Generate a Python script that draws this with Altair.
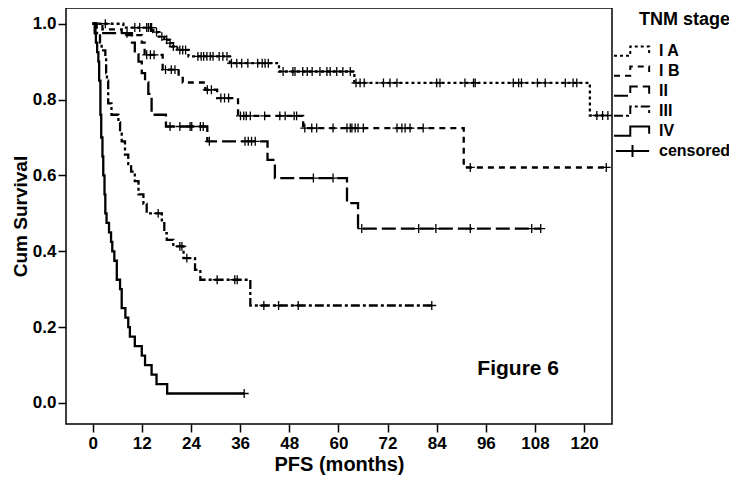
import bisect
import altair as alt
import pandas as pd

# ---------------- data ----------------
stages = ["I A", "I B", "II", "III", "IV"]

ia_t = [0, 7.5, 14.8, 16.2, 17.5, 18.5, 19.4, 20.7, 23.4, 33.5, 45.5, 63.9, 121.4]
ia_s = [1.0, 0.990, 0.978, 0.966, 0.958, 0.949, 0.940, 0.931, 0.914, 0.896, 0.874, 0.844, 0.758]
ia_end = 125.8
ia_cens = [3.1, 10.3, 11.5, 13.2, 13.6, 14.1, 14.4, 15.6, 16.9, 18.1, 18.9, 19.7, 21.3, 22.0,
           22.7, 25.7, 26.5, 27.1, 27.9, 28.7, 29.4, 30.9, 31.8, 32.8, 33.9, 35.2, 36.4, 37.9,
           40.3, 41.4, 42.1, 42.9, 46.5, 48.9, 49.4, 51.3, 52.4, 53.6, 55.5, 57.2, 58.0, 59.6,
           61.1, 62.9, 64.3, 65.3, 66.3, 71.0, 72.6, 74.3, 84.0, 84.8, 90.9, 93.0, 93.4,
           102.7, 104.0, 104.7, 108.6, 110.5, 115.4, 117.3, 118.2, 123.1, 124.5, 125.8]

ib_t = [0, 2.4, 7.1, 12.0, 12.7, 17.1, 21.0, 22.0, 27.5, 30.4, 35.5, 51.4, 90.6]
ib_s = [1.0, 0.985, 0.970, 0.950, 0.918, 0.879, 0.861, 0.845, 0.826, 0.804, 0.757, 0.725, 0.621]
ib_end = 125.4
ib_cens = [13.2, 14.1, 15.0, 17.8, 19.2, 20.1, 28.0, 29.0, 31.3, 32.2, 33.2, 36.1, 36.9,
           37.5, 38.5, 42.0, 45.7, 47.0, 49.2, 49.8, 51.8, 53.5, 54.7, 58.7, 62.1, 62.9,
           63.3, 64.1, 64.8, 66.1, 74.3, 75.5, 76.3, 77.5, 80.7, 92.2, 125.4]

ii_t = [0, 0.7, 9.6, 10.3, 11.2, 12.0, 12.8, 13.6, 14.4, 17.9, 28.0, 42.7, 44.5, 62.1, 64.8]
ii_s = [1.0, 0.975, 0.950, 0.920, 0.900, 0.870, 0.845, 0.815, 0.760, 0.729, 0.690, 0.641,
        0.593, 0.527, 0.460]
ii_end = 109.4
ii_cens = [8.4, 18.9, 21.3, 23.8, 24.2, 26.3, 27.0, 28.5, 37.2, 38.0, 38.8, 39.7, 53.9,
           58.7, 65.7, 79.6, 83.8, 92.2, 107.2, 109.4]

iii_t = [0, 1.0, 1.8, 2.2, 3.1, 3.3, 3.5, 3.8, 4.6, 6.3, 6.7, 7.1, 7.9, 8.7, 9.4, 10.3,
         11.2, 12.4, 13.2, 16.9, 17.5, 18.1, 19.7, 22.2, 25.0, 26.3, 38.5]
iii_s = [1.0, 0.975, 0.950, 0.930, 0.910, 0.870, 0.850, 0.790, 0.760, 0.740, 0.710, 0.690,
         0.655, 0.630, 0.610, 0.585, 0.550, 0.525, 0.500, 0.474, 0.448, 0.430, 0.413, 0.382,
         0.351, 0.325, 0.257]
iii_end = 82.8
iii_cens = [16.0, 21.3, 21.8, 23.0, 30.4, 34.7, 35.3, 41.8, 45.4, 50.2, 82.8]

iv_t = [0, 0.5, 0.8, 1.1, 1.4, 1.6, 1.9, 2.1, 2.4, 2.6, 2.9, 3.1, 3.4, 4.0, 4.5, 4.8, 5.3,
        5.9, 6.7, 7.1, 8.0, 8.7, 9.1, 10.3, 12.0, 12.8, 14.4, 15.6, 18.2]
iv_s = [1.0, 0.975, 0.950, 0.925, 0.900, 0.850, 0.760, 0.700, 0.650, 0.600, 0.550, 0.500,
        0.475, 0.450, 0.425, 0.400, 0.375, 0.325, 0.300, 0.250, 0.225, 0.200, 0.175, 0.150,
        0.125, 0.100, 0.075, 0.050, 0.025]
iv_end = 37.0
iv_cens = [37.0]

x_ticks = [0, 12, 24, 36, 48, 60, 72, 84, 96, 108, 120]
y_ticks = [0.0, 0.2, 0.4, 0.6, 0.8, 1.0]

curves = {
    "I A": (ia_t, ia_s, ia_end, ia_cens),
    "I B": (ib_t, ib_s, ib_end, ib_cens),
    "II": (ii_t, ii_s, ii_end, ii_cens),
    "III": (iii_t, iii_s, iii_end, iii_cens),
    "IV": (iv_t, iv_s, iv_end, iv_cens),
}

# ---------------- tables ----------------
line_rows, cens_rows = [], []
for st, (ts, ss, end, cs) in curves.items():
    for t, s in zip(ts, ss):
        line_rows.append({"stage": st, "t": t, "s": s})
    line_rows.append({"stage": st, "t": end, "s": ss[-1]})
    for c in cs:
        k = bisect.bisect_right(ts, c) - 1
        cens_rows.append({"stage": st, "t": c, "s": ss[k]})
line_df = pd.DataFrame(line_rows)
cens_df = pd.DataFrame(cens_rows)
legend_entries = stages + ["censored"]
legend_df = pd.DataFrame({"stage": legend_entries, "t": [None] * 6, "s": [None] * 6})
note_df = pd.DataFrame({"t": [103.9], "s": [0.09], "txt": ["Figure 6"]})

FONT = "Liberation Sans"
dashes = [[3, 3], [6, 5], [14, 5], [9, 3, 3, 3], [1, 0], [1, 0]]
step_icon = "M-1,0.25H-0.12V-0.25H0.9V0.15"
plus_icon = "M-0.9,0H0.9M0,-0.33V0.33"
icons = [step_icon] * 5 + [plus_icon]

xs = alt.Scale(domain=[-6.5, 126.8], nice=False, zero=False)
ys = alt.Scale(domain=[-0.0554, 1.0415], nice=False, zero=False)
dash_scale = alt.Scale(domain=legend_entries, range=dashes)
shape_scale = alt.Scale(domain=legend_entries, range=icons)


def make_legend():
    return alt.Legend(
        title="TNM stage", titleAnchor="end", orient="none", legendX=547, legendY=3,
        symbolSize=1369, symbolStrokeWidth=2, symbolStrokeColor="black",
        symbolFillColor="transparent", symbolOpacity=1,
        clipHeight=20, rowPadding=0, labelOffset=7, padding=0,
        labelFont=FONT, labelFontSize=16, labelFontWeight="bold", labelColor="black",
        titleFont=FONT, titleFontSize=18, titleFontWeight="bold", titleColor="black",
        titlePadding=12,
    )


x_axis = alt.Axis(values=x_ticks, title="PFS (months)", grid=False, domain=False,
                  tickSize=8, tickWidth=1.5, tickColor="black", labelPadding=3,
                  labelFont=FONT, labelFontSize=17, labelFontWeight="bold", labelColor="black",
                  titleFont=FONT, titleFontSize=20, titleFontWeight="bold", titleColor="black",
                  titlePadding=3)
y_axis = alt.Axis(values=y_ticks, format=".1f", title="Cum Survival", grid=False, domain=False,
                  tickSize=8, tickWidth=1.5, tickColor="black", labelPadding=2,
                  labelFont=FONT, labelFontSize=17, labelFontWeight="bold", labelColor="black",
                  titleFont=FONT, titleFontSize=19, titleFontWeight="bold", titleColor="black",
                  titlePadding=2)

lines = alt.Chart(line_df).mark_line(
    interpolate="step-after", color="black", strokeWidth=2.3, clip=True
).encode(
    x=alt.X("t:Q", scale=xs, axis=x_axis),
    y=alt.Y("s:Q", scale=ys, axis=y_axis),
    strokeDash=alt.StrokeDash("stage:N", scale=dash_scale, legend=make_legend()),
)

# legend-only layer (no drawable rows): gives each legend entry its own symbol
legend_layer = alt.Chart(legend_df).mark_point(
    filled=False, color="black", opacity=1, clip=True
).encode(
    x=alt.X("t:Q", scale=xs),
    y=alt.Y("s:Q", scale=ys),
    shape=alt.Shape("stage:N", scale=shape_scale, legend=make_legend()),
    strokeDash=alt.StrokeDash("stage:N", scale=dash_scale, legend=make_legend()),
)

points = alt.Chart(cens_df).mark_point(
    shape="M-1,0H1M0,-1V1", filled=False, size=80, strokeWidth=1.3, opacity=1,
    color="black", clip=True
).encode(
    x=alt.X("t:Q", scale=xs),
    y=alt.Y("s:Q", scale=ys),
)

note = alt.Chart(note_df).mark_text(
    font=FONT, fontSize=21, fontWeight="bold", color="black", align="center", baseline="middle"
).encode(x=alt.X("t:Q", scale=xs), y=alt.Y("s:Q", scale=ys), text="txt:N")

chart = alt.layer(lines, legend_layer, points, note).properties(
    width=546, height=416,
    autosize=alt.AutoSizeParams(type="none"),
    padding={"left": 58, "top": 0, "right": 117, "bottom": 54},
    background="white",
).configure_view(stroke="black", strokeWidth=1.5)

chart.save("out.html", embed_options={"renderer": "svg", "actions": False})
